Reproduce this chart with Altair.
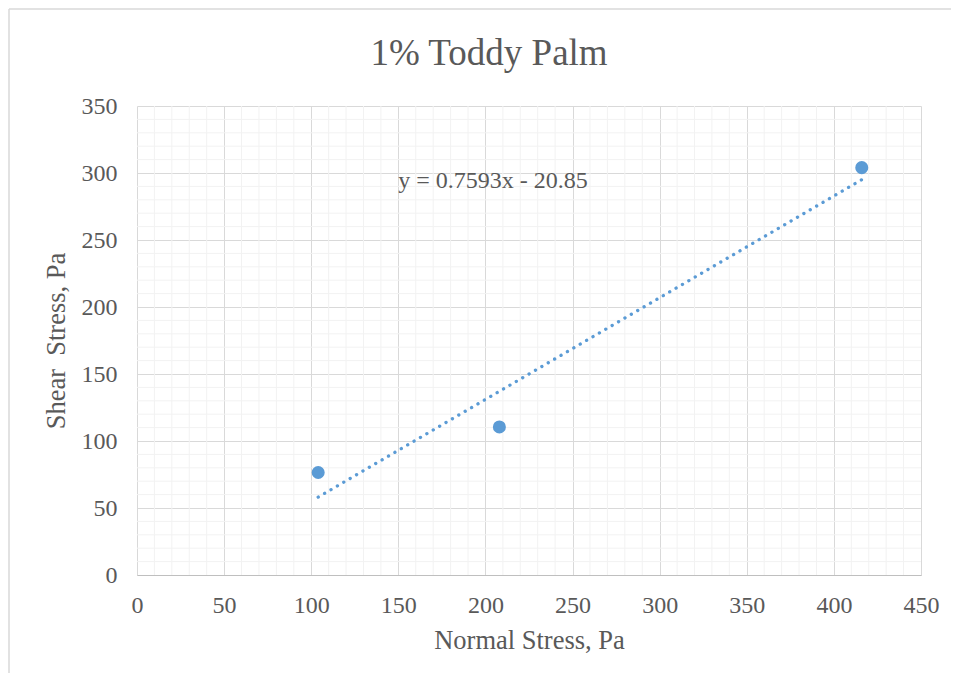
import altair as alt
import pandas as pd

# Data
normal_stress = [104, 208, 416]
shear_stress = [76.5, 110.5, 304]
slope = 0.7593
intercept = -20.85
chart_title = "1% Toddy Palm"
equation_label = "y = 0.7593x - 20.85"
eq_pos_x = [150]
eq_pos_y = [289]

x_major = list(range(0, 451, 50))
y_major = list(range(0, 351, 50))
x_minor = [v for v in range(0, 451, 10) if v % 50]
y_minor = [v for v in range(0, 351, 10) if v % 50]

FONT = "Liberation Serif"
GREY = "#595959"
BLUE = "#5b9bd5"

pts = pd.DataFrame({"x": normal_stress, "y": shear_stress})
trend = pd.DataFrame({"x": [min(normal_stress), max(normal_stress)]})
trend["y"] = slope * trend["x"] + intercept
eq = pd.DataFrame({"x": eq_pos_x, "y": eq_pos_y, "t": [equation_label]})
one = pd.DataFrame({"t": [chart_title]})
xm = pd.DataFrame({"x": x_minor})
ym = pd.DataFrame({"y": y_minor})

xs = alt.Scale(domain=[0, 450], nice=False, zero=False)
ys = alt.Scale(domain=[0, 350], nice=False, zero=False)

X = alt.X("x:Q", scale=xs, title="Normal Stress, Pa",
          axis=alt.Axis(values=x_major, grid=True, gridColor="#d9d9d9", gridWidth=1,
                        ticks=False, domain=True, domainColor="#bfbfbf", domainWidth=1,
                        labelFont=FONT, labelFontSize=24, labelColor=GREY, labelPadding=18,
                        labelFlush=False, labelOverlap=False,
                        titleFont=FONT, titleFontSize=26.5, titleColor=GREY, titleFontWeight="normal",
                        titlePadding=10))
Y = alt.Y("y:Q", scale=ys, title="Shear\u00a0 Stress, Pa",
          axis=alt.Axis(values=y_major, grid=True, gridColor="#d9d9d9", gridWidth=1,
                        ticks=False, domain=False,
                        labelFont=FONT, labelFontSize=24, labelColor=GREY, labelPadding=20,
                        labelFlush=False, labelOverlap=False,
                        titleFont=FONT, titleFontSize=26.5, titleColor=GREY, titleFontWeight="normal",
                        titlePadding=11))

minor_x = alt.Chart(xm).mark_rule(color="#f2f2f2", strokeWidth=1).encode(
    x=X, y=alt.value(0), y2=alt.value(469)
)
minor_y = alt.Chart(ym).mark_rule(color="#f2f2f2", strokeWidth=1).encode(
    y=Y, x=alt.value(0), x2=alt.value(784)
)

line = alt.Chart(trend).mark_line(color=BLUE, strokeWidth=3.3, strokeDash=[0.1, 7.3], strokeCap="round").encode(
    x=X, y=Y
)

points = alt.Chart(pts).mark_circle(color=BLUE, size=170, opacity=1).encode(x=X, y=Y)

text = alt.Chart(eq).mark_text(font=FONT, fontSize=24, color=GREY, align="left", baseline="alphabetic").encode(
    x=X, y=Y, text="t:N"
)

title = alt.Chart(one).mark_text(font=FONT, fontSize=37, color=GREY, align="center", baseline="alphabetic").encode(
    x=alt.value(352), y=alt.value(-41), text="t:N"
)

border_v = alt.Chart(one).mark_rule(color="#d9d9d9", strokeWidth=1.5).encode(
    x=alt.value(-128), y=alt.value(-97), y2=alt.value(700)
)
border_h = alt.Chart(one).mark_rule(color="#d9d9d9", strokeWidth=1.5).encode(
    x=alt.value(-128), x2=alt.value(900), y=alt.value(-97)
)

chart = alt.layer(minor_x, minor_y, line, points, text, title, border_v, border_h).properties(
    width=784,
    height=469,
    padding={"left": 129, "top": 98, "right": 30, "bottom": 98},
    autosize=alt.AutoSizeParams(type="none"),
    background="white",
).configure_view(stroke=None)

chart.save("out.html", embed_options={"renderer": "svg", "actions": False})
